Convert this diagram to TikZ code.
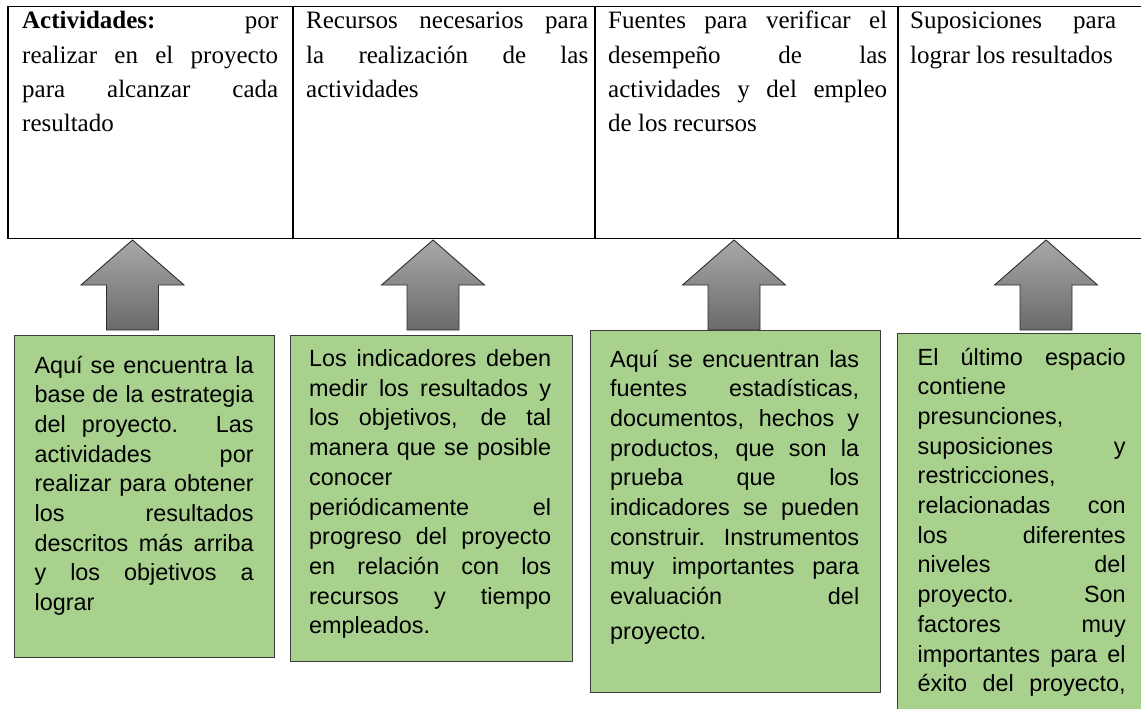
\documentclass[tikz,border=0pt]{standalone}
\usepackage{fontspec}
\setmainfont{Liberation Serif}
\newfontfamily\notefont{Liberation Sans}
\definecolor{notegreen}{HTML}{A9D18E}
\definecolor{noteedge}{HTML}{3C3C3C}
\definecolor{arrtop}{HTML}{A8A8A8}
\definecolor{arrbot}{HTML}{6A6A6A}
\definecolor{arredge}{HTML}{2E2E2E}
\newcommand\jline[1]{{\spaceskip=0pt\xspaceskip=0pt\makebox[\linewidth][s]{#1}}}
\newcommand\nline[1]{{\spaceskip=0pt\xspaceskip=0pt\mbox{#1}}}
\begin{document}
\begin{tikzpicture}[x=1pt,y=-1pt,
  cellline/.style={draw=black, line width=1.7pt, rectangle, anchor=north west,
    inner sep=0pt, minimum height=232pt},
  headtext/.style={anchor=base west, inner sep=0pt, align=left,
    font=\fontsize{25}{34.2}\selectfont},
  note/.style={draw=noteedge, line width=1.1pt, fill=notegreen, rectangle,
    anchor=north west, inner sep=0pt},
  notetext/.style={anchor=base west, inner sep=0pt, align=left,
    font=\notefont\fontsize{23.4}{29.7}\selectfont},
  uparrow/.style={top color=arrtop, bottom color=arrbot, draw=arredge,
    line width=0.9pt, line join=miter},
  blockarrow/.pic={\path[uparrow] (0,0) -- (51.5,45) -- (26,45) -- (26,90)
    -- (-26,90) -- (-26,45) -- (-51.5,45) -- cycle;}
]
\useasboundingbox (0,0) rectangle (1141,709);
\fill[white] (0,0) rectangle (1141,709);

% table cells
\node[cellline, minimum width=284.7pt] (c1) at (7.3,5.7) {};
\node[cellline, minimum width=302pt] (c2) at (292,5.7) {};
\node[cellline, minimum width=303pt] (c3) at (594,5.7) {};
\node[cellline, minimum width=400pt] (c4) at (897,5.7) {};

% header texts
\node[headtext, text width=256pt] (h1) at (22,29) {%
\jline{\textbf{Actividades:} por}\\
\jline{realizar en el proyecto}\\
\jline{para alcanzar cada}\\
\nline{resultado}};
\node[headtext, text width=282pt] (h2) at (306,29) {%
\jline{Recursos necesarios para}\\
\jline{la realización de las}\\
\nline{actividades}};
\node[headtext, text width=279pt] (h3) at (608,29) {%
\jline{Fuentes para verificar el}\\
\jline{desempeño de las}\\
\jline{actividades y del empleo}\\
\nline{de los recursos}};
\node[headtext, text width=206pt] (h4) at (910,29) {%
\jline{Suposiciones para}\\
\nline{lograr los resultados}};

% arrows
\pic at (132.5,240) {blockarrow};
\pic at (433,240) {blockarrow};
\pic at (734,240) {blockarrow};
\pic at (1046,240) {blockarrow};

% green boxes
\node[note, minimum width=260pt, minimum height=321.7pt] (b1) at (14,335) {};
\node[note, minimum width=282pt, minimum height=326pt] (b2) at (289.5,335) {};
\node[note, minimum width=290pt, minimum height=361.7pt] (b3) at (589.5,330) {};
\node[note, minimum width=400pt, minimum height=500pt] (b4) at (897,332.7) {};

\node[notetext, text width=219pt] (t1) at (34.4,373) {%
\jline{Aquí se encuentra la}\\
\jline{base de la estrategia}\\
\jline{del proyecto. Las}\\
\jline{actividades por}\\
\jline{realizar para obtener}\\
\jline{los resultados}\\
\jline{descritos más arriba}\\
\jline{y los objetivos a}\\
\nline{lograr}};
\node[notetext, text width=242pt] (t2) at (309,366.5) {%
\jline{Los indicadores deben}\\
\jline{medir los resultados y}\\
\jline{los objetivos, de tal}\\
\jline{manera que se posible}\\
\nline{conocer}\\
\jline{periódicamente el}\\
\jline{progreso del proyecto}\\
\jline{en relación con los}\\
\jline{recursos y tiempo}\\
\nline{empleados.}};
\node[notetext, text width=249pt] (t3) at (610,367) {%
\jline{Aquí se encuentran las}\\
\jline{fuentes estadísticas,}\\
\jline{documentos, hechos y}\\
\jline{productos, que son la}\\
\jline{prueba que los}\\
\jline{indicadores se pueden}\\
\jline{construir. Instrumentos}\\
\jline{muy importantes para}\\
\jline{evaluación del}\\[5pt]
\nline{proyecto.}};
\node[notetext, text width=208pt] (t4) at (917.5,365) {%
\jline{El último espacio}\\
\nline{contiene}\\
\nline{presunciones,}\\
\jline{suposiciones y}\\
\nline{restricciones,}\\
\jline{relacionadas con}\\
\jline{los diferentes}\\
\jline{niveles del}\\
\jline{proyecto. Son}\\
\jline{factores muy}\\
\jline{importantes para el}\\
\jline{éxito del proyecto,}};
\end{tikzpicture}
\end{document}
